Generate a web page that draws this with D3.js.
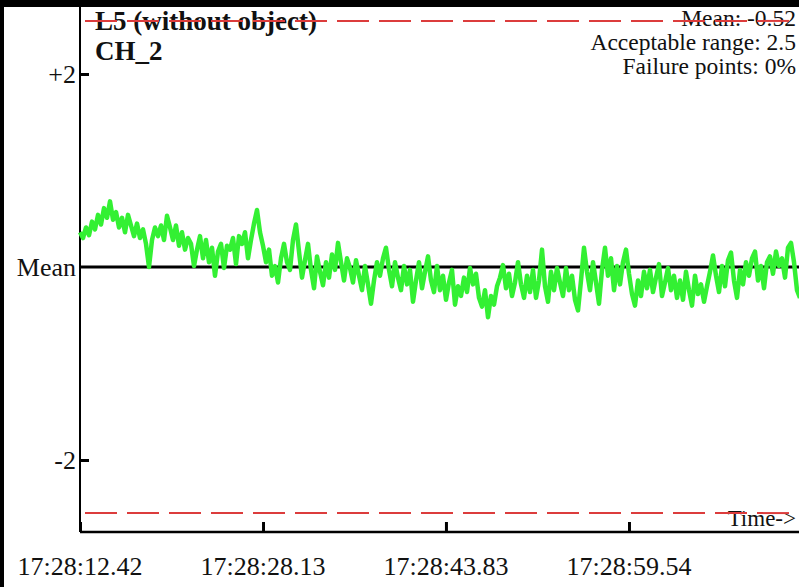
<!DOCTYPE html>
<html>
<head>
<meta charset="utf-8">
<script src="https://cdn.jsdelivr.net/npm/d3@7"></script>
<style>
  body { margin: 0; background: #fff; }
  svg { display: block; }
</style>
</head>
<body>
<svg id="chart"></svg>
<script>
// sampled deviation from mean, CH_2
const deviation = [
  0.36, 0.30, 0.41, 0.33, 0.47, 0.39, 0.54, 0.44, 0.61, 0.51,
  0.68, 0.49, 0.57, 0.41, 0.51, 0.36, 0.54, 0.43, 0.32, 0.45,
  0.30, 0.39, 0.24, 0.00, 0.28, 0.41, 0.32, 0.43, 0.28, 0.53,
  0.41, 0.28, 0.43, 0.22, 0.36, 0.18, 0.30, 0.24, 0.01, 0.18,
  0.32, 0.09, 0.28, 0.05, 0.20, -0.09, 0.16, 0.24, -0.01, 0.22,
  0.18, 0.30, 0.03, 0.32, 0.24, 0.36, 0.09, 0.28, 0.45, 0.59,
  0.36, 0.22, 0.05, 0.18, -0.09, 0.01, -0.16, 0.09, 0.24, 0.05,
  -0.03, 0.28, 0.44, 0.16, -0.11, 0.07, 0.24, -0.03, -0.22, 0.11,
  -0.05, -0.19, 0.05, -0.11, 0.13, -0.03, 0.25, 0.05, -0.14, 0.09,
  -0.01, -0.16, 0.07, -0.09, -0.24, 0.01, -0.18, -0.38, -0.14, 0.05,
  -0.09, 0.09, 0.20, -0.03, -0.20, 0.05, -0.11, -0.24, 0.01, -0.18,
  -0.03, -0.36, -0.14, 0.05, -0.22, -0.05, 0.11, -0.14, -0.26, 0.01,
  -0.24, -0.09, -0.34, -0.16, -0.03, -0.39, -0.20, -0.30, -0.11, -0.26,
  -0.01, -0.18, -0.07, -0.32, -0.41, -0.24, -0.52, -0.30, -0.39, -0.20,
  -0.11, 0.02, -0.22, -0.07, -0.30, -0.16, 0.05, -0.18, -0.32, -0.09,
  -0.26, -0.03, -0.32, -0.14, 0.18, -0.20, -0.36, -0.05, -0.24, -0.01,
  -0.16, -0.30, -0.01, -0.24, -0.09, -0.34, -0.45, -0.14, 0.20, -0.05,
  -0.24, 0.05, -0.16, -0.38, -0.03, 0.20, -0.09, 0.09, -0.24, 0.01,
  -0.18, 0.05, 0.18, -0.07, -0.28, -0.40, -0.14, -0.30, -0.05, -0.22,
  -0.03, -0.26, -0.11, 0.03, -0.30, -0.16, -0.01, -0.24, -0.09, -0.32,
  -0.14, -0.34, -0.05, -0.24, -0.40, -0.09, -0.28, -0.18, -0.36, -0.20,
  -0.05, 0.12, -0.09, -0.26, 0.01, -0.20, 0.07, 0.15, -0.14, -0.32,
  -0.03, -0.18, 0.05, -0.09, 0.09, 0.16, -0.14, 0.01, -0.22, 0.05,
  0.11, -0.07, 0.16, 0.01, 0.09, -0.11, 0.20, 0.25, 0.05, -0.24,
  -0.32
];

const startTime = 12.42;      // seconds after 17:28
const sampleStep = 0.2575;    // seconds between samples
const timeTicks = [12.42, 28.13, 43.83, 59.54];
const yTicks = [2, 0, -2];
const yTickLabels = ["+2", "Mean", "-2"];
const limit = 2.55;

const titleLines = ["L5 (without object)", "CH_2"];
const infoLines = ["Mean: -0.52", "Acceptable range: 2.5", "Failure points: 0%"];

const width = 799, height = 587;
const plot = { left: 80, right: 800, top: 7, bottom: 532 };

const svg = d3.select("#chart")
    .attr("width", width)
    .attr("height", height)
    .style("font-family", "'Liberation Serif', 'Times New Roman', serif");

svg.append("rect").attr("width", width).attr("height", height).attr("fill", "#fff");

// black frame pieces at top and left
svg.append("rect").attr("x", 0).attr("y", 0).attr("width", width).attr("height", 7).attr("fill", "#000");
svg.append("rect").attr("x", 0).attr("y", 0).attr("width", 4).attr("height", height).attr("fill", "#000");

const data = deviation.map((v, i) => ({ t: startTime + i * sampleStep, v: v }));

const x = d3.scaleLinear()
    .domain([startTime, startTime + (deviation.length - 1) * sampleStep])
    .range([plot.left, plot.right]);

const y = d3.scaleLinear()
    .domain([-1, 1])
    .range([267 + 96.5, 267 - 96.5]);

// y axis
const yAxis = svg.append("g")
    .attr("transform", `translate(${plot.left},0)`)
    .call(d3.axisRight(y).tickValues([2, -2]).tickSize(9).tickFormat(""));
yAxis.select(".domain").remove();
yAxis.selectAll(".tick line").attr("stroke", "#000").attr("stroke-width", 3);

svg.append("line")
    .attr("x1", plot.left).attr("x2", plot.left)
    .attr("y1", plot.top).attr("y2", plot.bottom)
    .attr("stroke", "#000").attr("stroke-width", 2);

svg.append("g").selectAll("text")
    .data(yTicks)
    .join("text")
    .attr("x", 76)
    .attr("y", d => y(d))
    .attr("dy", "0.35em")
    .attr("text-anchor", "end")
    .attr("font-size", 26)
    .attr("fill", "#111")
    .text((d, i) => yTickLabels[i]);

// x axis
const xAxis = svg.append("g")
    .attr("transform", `translate(0,${plot.bottom})`)
    .call(d3.axisTop(x).tickValues(timeTicks).tickSize(10).tickFormat(""));
xAxis.select(".domain").remove();
xAxis.selectAll(".tick line").attr("stroke", "#000").attr("stroke-width", 3);

svg.append("line")
    .attr("x1", plot.left).attr("x2", width)
    .attr("y1", plot.bottom).attr("y2", plot.bottom)
    .attr("stroke", "#000").attr("stroke-width", 2.5);

svg.append("g").selectAll("text")
    .data(timeTicks)
    .join("text")
    .attr("x", d => x(d))
    .attr("y", 575)
    .attr("text-anchor", "middle")
    .attr("font-size", 26)
    .attr("fill", "#111")
    .text(d => "17:28:" + d.toFixed(2));

svg.append("text")
    .attr("x", 796).attr("y", 526)
    .attr("text-anchor", "end")
    .attr("font-size", 23)
    .attr("fill", "#111")
    .text("Time->");

// title block
svg.append("g").selectAll("text")
    .data(titleLines)
    .join("text")
    .attr("x", 95)
    .attr("y", (d, i) => 30 + i * 30)
    .attr("font-size", 27)
    .attr("font-weight", "bold")
    .attr("fill", "#111")
    .text(d => d);

// info block
svg.append("g").selectAll("text")
    .data(infoLines)
    .join("text")
    .attr("x", 796)
    .attr("y", (d, i) => 26 + i * 24)
    .attr("text-anchor", "end")
    .attr("font-size", 23.5)
    .attr("fill", "#111")
    .text(d => d);

// mean line
svg.append("line")
    .attr("x1", plot.left).attr("x2", width)
    .attr("y1", y(0)).attr("y2", y(0))
    .attr("stroke", "#000").attr("stroke-width", 3);

// signal
const line = d3.line()
    .x(d => x(d.t))
    .y(d => y(d.v));

svg.append("path")
    .datum(data)
    .attr("d", line)
    .attr("fill", "none")
    .attr("stroke", "#33f033")
    .attr("stroke-width", 4.5)
    .attr("stroke-linejoin", "round");

// acceptable range limits
svg.append("g").selectAll("line")
    .data([limit, -limit])
    .join("line")
    .attr("x1", 85).attr("x2", width)
    .attr("y1", d => y(d)).attr("y2", d => y(d))
    .attr("stroke", "#dc3c3c")
    .attr("stroke-width", 2)
    .attr("stroke-dasharray", "32,10");
</script>
</body>
</html>
